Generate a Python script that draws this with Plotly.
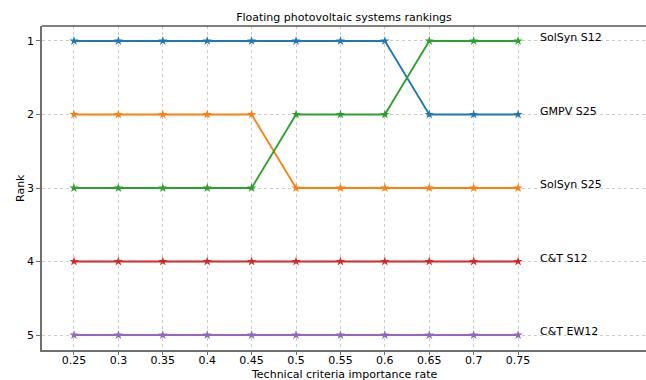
import plotly.graph_objects as go

rates = [0.25, 0.3, 0.35, 0.4, 0.45, 0.5, 0.55, 0.6, 0.65, 0.7, 0.75]
tick_labels = ["0.25", "0.3", "0.35", "0.4", "0.45", "0.5", "0.55", "0.6", "0.65", "0.7", "0.75"]
series_blue = [1, 1, 1, 1, 1, 1, 1, 1, 2, 2, 2]
series_orange = [2, 2, 2, 2, 2, 3, 3, 3, 3, 3, 3]
series_green = [3, 3, 3, 3, 3, 2, 2, 2, 1, 1, 1]
series_red = [4, 4, 4, 4, 4, 4, 4, 4, 4, 4, 4]
series_purple = [5, 5, 5, 5, 5, 5, 5, 5, 5, 5, 5]
rank_labels = ["SolSyn S12", "GMPV S25", "SolSyn S25", "C&T S12", "C&T EW12"]
ranks = [1, 2, 3, 4, 5]

colors = ["#1f77b4", "#ff7f0e", "#2ca02c", "#d62728", "#9467bd"]
all_series = [series_blue, series_orange, series_green, series_red, series_purple]

fig = go.Figure()
for s, c in zip(all_series, colors):
    fig.add_trace(go.Scatter(
        x=rates, y=s, mode="lines+markers",
        line=dict(color=c, width=1.8),
        marker=dict(symbol="star", size=7, color=c),
        showlegend=False,
    ))

for r, lab in zip(ranks, rank_labels):
    fig.add_annotation(x=0.7725, y=r, xref="x", yref="y", text=lab,
                       showarrow=False, xanchor="left", yanchor="bottom",
                       yshift=-5,
                       font=dict(family="DejaVu Sans", size=11, color="#000000"))

# axis titles
fig.add_annotation(x=0.5, y=-25 / 324, xref="paper", yref="paper",
                   text="Technical criteria importance rate", showarrow=False,
                   xanchor="center", yanchor="middle",
                   font=dict(family="DejaVu Sans", size=11, color="#000000"))
fig.add_annotation(x=-22 / 604, y=0.5, xref="paper", yref="paper",
                   text="Rank", showarrow=False, textangle=-90,
                   xanchor="center", yanchor="middle",
                   font=dict(family="DejaVu Sans", size=11, color="#000000"))

fig.add_shape(type="line", xref="paper", yref="paper", x0=0, x1=1, y0=1, y1=1,
              line=dict(color="#000000", width=1))

fig.update_layout(
    width=646, height=380,
    margin=dict(l=42, r=0, t=26, b=30, autoexpand=False),
    plot_bgcolor="white", paper_bgcolor="white",
    font=dict(family="DejaVu Sans", size=10, color="#000000"),
    title=dict(text="Floating photovoltaic systems rankings", x=0.5, xanchor="center",
               xref="paper", y=1 - 17 / 380, yanchor="middle",
               font=dict(family="DejaVu Sans", size=11, color="#000000")),
    xaxis=dict(
        range=[0.214, 0.894], tickvals=rates, ticktext=tick_labels,
        showgrid=True, gridcolor="#cccccc", griddash="dot", gridwidth=1,
        showline=True, linecolor="#707070", linewidth=1.5,
        ticks="outside", ticklen=3, tickcolor="#707070",
        ticklabelstandoff=-4,
        zeroline=False, automargin=False,
        tickfont=dict(family="DejaVu Sans", size=11),
    ),
    yaxis=dict(
        range=[5.204, 0.796], tickvals=ranks, ticktext=[str(r) for r in ranks],
        showgrid=True, gridcolor="#cccccc", griddash="dot", gridwidth=1,
        showline=True, linecolor="#707070", linewidth=1.5,
        ticks="outside", ticklen=4, tickcolor="#707070",
        zeroline=False, automargin=False,
        tickfont=dict(family="DejaVu Sans", size=11),
    ),
)

fig.write_html("out.html", config={"displayModeBar": False},
               post_script="document.body.style.margin='0px';")
